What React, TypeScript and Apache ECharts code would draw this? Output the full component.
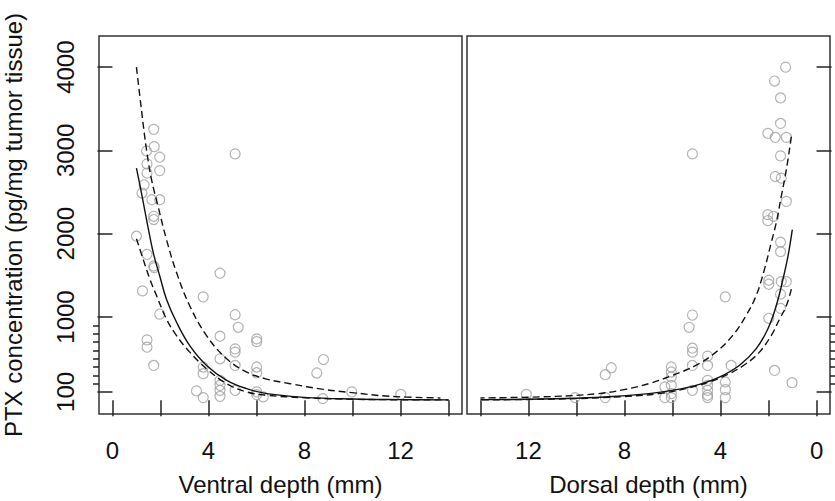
import React, { useEffect, useRef } from "react";
import * as echarts from "echarts";

// ---------- data ----------
const ventralX = [1.72, 1.74, 1.42, 1.97, 1.44, 1.44, 1.97, 1.32, 1.23, 1.64, 1.97, 1.72, 1.72, 1.0, 1.44, 1.72, 1.74, 1.25, 1.97, 1.44, 1.44, 1.72,
  5.11, 4.48, 3.78, 5.11, 5.24, 4.48, 6.01, 6.01, 5.11, 5.11, 4.48, 5.11, 3.78, 3.78, 6.01, 6.01, 4.48, 4.48, 4.48, 4.48, 3.5, 3.78, 5.11, 6.01, 6.01, 6.28,
  8.79, 8.51, 9.97, 12.01, 8.76];
const ventralPTX = [3253, 3045, 2993, 2918, 2838, 2727, 2758, 2587, 2488, 2408, 2408, 2209, 2170, 1970, 1752, 1612, 1593, 1313, 1035, 725, 637, 418,
  2958, 1525, 1242, 1027, 876, 769, 737, 704, 617, 578, 498, 418, 399, 319, 399, 330, 239, 179, 119, 47, 112, 32, 119, 100, 68, 40,
  489, 327, 100, 71, 20];

const dorsalX = [1.29, 1.75, 1.5, 1.5, 2.03, 1.72, 1.26, 1.5, 1.72, 1.47, 1.26, 2.03, 2.03, 1.79, 1.5, 1.5, 1.99, 1.99, 1.47, 1.26, 1.5, 1.5, 1.99, 1.75, 1.02,
  3.56, 3.8, 5.17, 5.17, 5.31, 5.17, 5.17, 5.17, 5.17, 4.54, 4.54, 4.54, 4.54, 4.54, 4.54, 4.54, 3.8, 3.8, 3.8,
  6.05, 6.05, 6.05, 6.05, 6.05, 6.05, 6.32, 6.32, 8.8, 8.55, 8.8, 10.06, 12.09];
const dorsalPTX = [4000, 3833, 3630, 3324, 3205, 3157, 3157, 2934, 2687, 2667, 2388, 2229, 2157, 2209, 1898, 1784, 1441, 1393, 1425, 1425, 1274, 1103, 984, 358, 211,
  418, 1242, 2958, 1023, 876, 625, 578, 418, 119, 530, 418, 239, 179, 119, 60, 32, 219, 127, 32,
  399, 339, 279, 179, 80, 32, 160, 32, 307, 390, 32, 32, 71];

// fitted curves
const ventralFitX = [1.0, 1.21, 1.42, 1.7, 1.97, 2.25, 2.67, 3.22, 3.92, 4.76, 5.59, 6.43, 8, 10, 12, 14];
const ventralFit = [2787, 2488, 2170, 1772, 1492, 1214, 936, 656, 418, 239, 139, 80, 35, 15, 8, 5];
const ventralUpX = [1.0, 1.21, 1.42, 1.63, 1.9, 2.25, 2.67, 3.22, 3.92, 4.76, 5.59, 6.35, 7.4, 8.79, 9.97, 11.57, 13.66];
const ventralUp = [4000, 3483, 3005, 2647, 2328, 1931, 1533, 1134, 776, 498, 339, 260, 199, 131, 92, 47, 28];
const ventralLoX = [1.0, 1.28, 1.56, 1.84, 2.25, 2.67, 3.22, 3.92, 4.76, 5.59, 6.43, 8, 10, 12, 14];
const ventralLo = [1940, 1692, 1453, 1254, 975, 776, 578, 378, 199, 100, 60, 30, 12, 6, 4];

const dorsalFitX = [1.01, 1.19, 1.4, 1.68, 2.03, 2.52, 3.22, 4.05, 5.03, 6.01, 6.99, 8.5, 10, 12, 14];
const dorsalFit = [2050, 1731, 1453, 1134, 856, 617, 418, 279, 179, 119, 80, 45, 25, 12, 8];
const dorsalUpX = [1.05, 1.26, 1.47, 1.68, 1.89, 2.17, 2.52, 2.94, 3.5, 4.19, 5.03, 6.01, 6.99, 7.97, 9.09, 11, 14];
const dorsalUp = [3164, 2767, 2448, 2130, 1891, 1572, 1254, 1015, 776, 578, 418, 298, 199, 131, 80, 45, 28];
const dorsalLoX = [1.05, 1.26, 1.54, 1.89, 2.38, 2.94, 3.64, 4.47, 5.45, 6.57, 8, 10, 12, 14];
const dorsalLo = [1334, 1134, 975, 776, 578, 438, 319, 219, 139, 80, 45, 20, 10, 5];

const yMajorTicks = [100, 1000, 2000, 3000, 4000];
const yMinorTicks = [200, 300, 400, 500, 600, 700, 800, 900];
const xTicks = [0, 2, 4, 6, 8, 10, 12, 14];
const xLabels = [0, 4, 8, 12];

const Y_MIN = -165;
const Y_MAX = 4374;
const X_MIN = -0.56;
const X_MAX = 14.56;

const FONT = "'Liberation Sans', Arial, Helvetica, sans-serif";

function zip(xs: number[], ys: number[]) {
  return xs.map((x, i) => [x, ys[i]]);
}

export default function App() {
  const ref = useRef<HTMLDivElement>(null);

  useEffect(() => {
    if (!ref.current) return;
    const chart = echarts.init(ref.current, undefined, { renderer: "svg" });

    const xAxisBase = (grid: number, inverse: boolean, name: string) => ({
      type: "value",
      gridIndex: grid,
      min: X_MIN,
      max: X_MAX,
      inverse,
      axisLine: { show: false },
      splitLine: { show: false },
      axisTick: {
        show: true,
        customValues: xTicks,
        length: 16,
        lineStyle: { color: "#222", width: 1.5 },
      },
      axisLabel: {
        customValues: xLabels,
        formatter: (v: number) => String(v),
        fontSize: 24,
        fontFamily: FONT,
        color: "#111",
        margin: 24,
      },
      name,
      nameLocation: "middle",
      nameGap: 58,
      nameTextStyle: { fontSize: 24, fontFamily: FONT, color: "#111" },
    });

    const yAxisMajor = (grid: number, position: string, withLabels: boolean) => ({
      type: "value",
      gridIndex: grid,
      min: Y_MIN,
      max: Y_MAX,
      position,
      axisLine: { show: false },
      splitLine: { show: false },
      axisTick: {
        show: true,
        customValues: yMajorTicks,
        length: 15,
        lineStyle: { color: "#222", width: 1.5 },
      },
      axisLabel: {
        show: withLabels,
        customValues: yMajorTicks,
        formatter: (v: number) => String(v),
        rotate: 90,
        fontSize: 24,
        fontFamily: FONT,
        color: "#111",
        margin: 22,
      },
      name: withLabels ? "PTX concentration (pg/mg tumor tissue)" : "",
      nameLocation: "middle",
      nameRotate: 90,
      nameGap: 74,
      nameTextStyle: { fontSize: 24, fontFamily: FONT, color: "#111" },
    });

    const yAxisMinor = (grid: number, position: string) => ({
      type: "value",
      gridIndex: grid,
      min: Y_MIN,
      max: Y_MAX,
      position,
      axisLine: { show: false },
      splitLine: { show: false },
      axisTick: {
        show: true,
        customValues: yMinorTicks,
        length: 6,
        lineStyle: { color: "#222", width: 1.5 },
      },
      axisLabel: { show: false },
    });

    const scatterStyle = {
      type: "scatter",
      symbol: "circle",
      symbolSize: 10,
      itemStyle: { color: "rgba(0,0,0,0)", borderColor: "#a0a0a0", borderWidth: 1.2 },
      silent: true,
      z: 2,
    };

    const lineSeries = (xi: number, yi: number, data: number[][], dashed: boolean) => ({
      type: "line",
      xAxisIndex: xi,
      yAxisIndex: yi,
      data,
      smooth: 0.4,
      showSymbol: false,
      symbol: "none",
      silent: true,
      lineStyle: {
        color: "#111",
        width: 1.4,
        type: dashed ? [7, 4] : "solid",
      },
      z: 3,
    });

    chart.setOption({
      animation: false,
      backgroundColor: "#fff",
      grid: [
        { left: 98, top: 36, width: 364, height: 379, show: true, borderColor: "#333", borderWidth: 1.5, backgroundColor: "transparent" },
        { left: 467, top: 36, width: 363, height: 379, show: true, borderColor: "#333", borderWidth: 1.5, backgroundColor: "transparent" },
      ],
      xAxis: [
        xAxisBase(0, false, "Ventral depth (mm)"),
        xAxisBase(1, true, "Dorsal depth (mm)"),
      ],
      yAxis: [
        yAxisMajor(0, "left", true),
        yAxisMinor(0, "left"),
        yAxisMajor(1, "right", false),
        yAxisMinor(1, "right"),
      ],
      series: [
        { ...scatterStyle, xAxisIndex: 0, yAxisIndex: 0, data: zip(ventralX, ventralPTX) },
        lineSeries(0, 0, zip(ventralFitX, ventralFit), false),
        lineSeries(0, 0, zip(ventralUpX, ventralUp), true),
        lineSeries(0, 0, zip(ventralLoX, ventralLo), true),
        { ...scatterStyle, xAxisIndex: 1, yAxisIndex: 2, data: zip(dorsalX, dorsalPTX) },
        lineSeries(1, 2, zip(dorsalFitX, dorsalFit), false),
        lineSeries(1, 2, zip(dorsalUpX, dorsalUp), true),
        lineSeries(1, 2, zip(dorsalLoX, dorsalLo), true),
      ],
    });

    return () => chart.dispose();
  }, []);

  return (
    <div
      ref={ref}
      style={{ position: "fixed", left: 0, top: 0, width: 835, height: 501 }}
    />
  );
}
